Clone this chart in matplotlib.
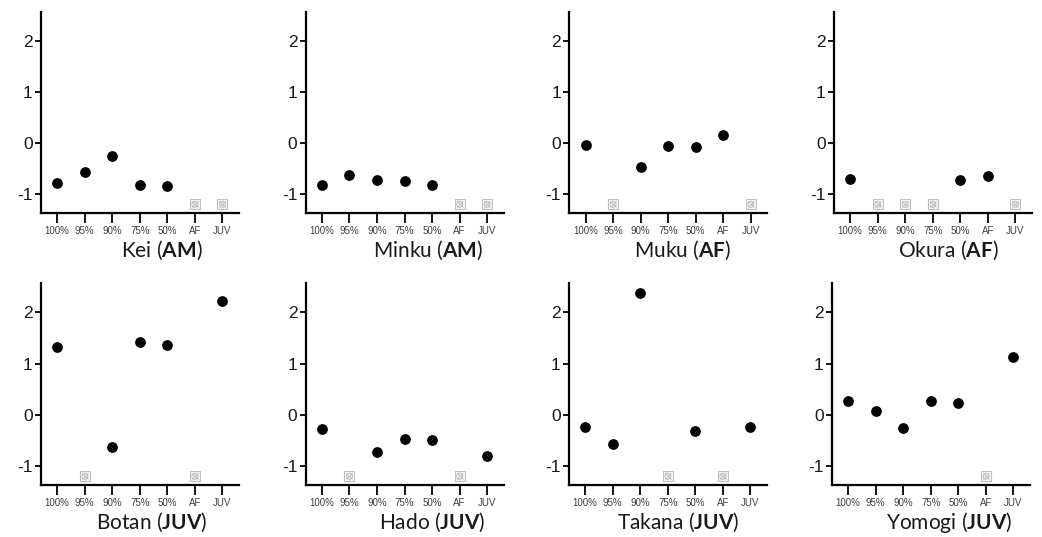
import numpy as np
import matplotlib
matplotlib.use("Agg")
import matplotlib.pyplot as plt

plt.rcParams['font.family'] = 'Liberation Sans'
plt.rcParams['axes.unicode_minus'] = False
plt.rcParams['mathtext.fontset'] = 'custom'
plt.rcParams['mathtext.rm'] = 'Lato'
plt.rcParams['mathtext.bf'] = 'Lato:bold'

categories = ["100%", "95%", "90%", "75%", "50%", "AF", "JUV"]

names = ["Kei", "Minku", "Muku", "Okura", "Botan", "Hado", "Takana", "Yomogi"]
groups = ["AM", "AM", "AF", "AF", "JUV", "JUV", "JUV", "JUV"]

# None = no value (drawn as the grey crossed box)
kei = [-0.78, -0.56, -0.26, -0.82, -0.84, None, None]
minku = [-0.83, -0.63, -0.72, -0.75, -0.82, None, None]
muku = [-0.03, None, -0.46, -0.05, -0.08, 0.15, None]
okura = [-0.70, None, None, None, -0.72, -0.65, None]
botan = [1.33, None, -0.62, 1.42, 1.36, None, 2.23]
hado = [-0.28, None, -0.73, -0.48, -0.50, None, -0.80]
takana = [-0.23, -0.57, 2.38, None, -0.31, None, -0.23]
yomogi = [0.27, 0.08, -0.25, 0.27, 0.24, None, 1.13]

series = [kei, minku, muku, okura, botan, hado, takana, yomogi]
missing_level = -1.2

W, H = 1042, 537
fig = plt.figure(figsize=(W / 100, H / 100), dpi=100)

lefts = [[41, 305.7, 569.3, 834], [41, 305.7, 569, 832]]
tops = [12, 283.3]
bottoms = [213, 485]
title_x = [0.61, 0.62, 0.57, 0.58, 0.56, 0.64, 0.55, 0.59]

x = np.arange(len(categories))
for i, (name, grp, vals) in enumerate(zip(names, groups, series)):
    r, c = divmod(i, 4)
    l = lefts[r][c]
    ax = fig.add_axes([l / W, 1 - bottoms[r] / H, 198 / W, (bottoms[r] - tops[r]) / H])

    have = [j for j, v in enumerate(vals) if v is not None]
    miss = [j for j, v in enumerate(vals) if v is None]
    ax.scatter(x[have], [vals[j] for j in have], s=45, color="black", zorder=3)
    if miss:
        yy = [missing_level] * len(miss)
        ax.scatter(x[miss], yy, s=52, marker="s", facecolor="#f6f6f6",
                   edgecolor="#c0c0c0", linewidth=0.8, zorder=3)
        ax.scatter(x[miss], yy, s=18, marker="o", facecolor="none",
                   edgecolor="#bcbcbc", linewidth=0.7, zorder=4)
        ax.scatter(x[miss], yy, s=18, marker="x", color="#bcbcbc",
                   linewidth=0.7, zorder=4)

    ax.set_xlim(-0.59, 6.6)
    ax.set_ylim(-1.37, 2.57)
    ax.set_yticks([-1, 0, 1, 2])
    ax.set_xticks(x)
    ax.set_xticklabels(categories, fontsize=7, color="#404040")
    ax.tick_params(axis="y", labelsize=12.5, length=4.5, width=1.3, pad=1.5,
                   labelcolor="#1a1a1a")
    ax.tick_params(axis="x", length=7.5, width=1.3, pad=1.5)
    for s in ["top", "right"]:
        ax.spines[s].set_visible(False)
    for s in ["left", "bottom"]:
        ax.spines[s].set_linewidth(1.6)
    ax.patch.set_alpha(0)

    ax.text(title_x[i], -0.185, name + r" ($\mathbf{" + grp + r"}$)",
            transform=ax.transAxes, ha="center", va="center",
            fontsize=15, family="Lato", color="#1a1a1a")

fig.savefig("out.png", dpi=100)
